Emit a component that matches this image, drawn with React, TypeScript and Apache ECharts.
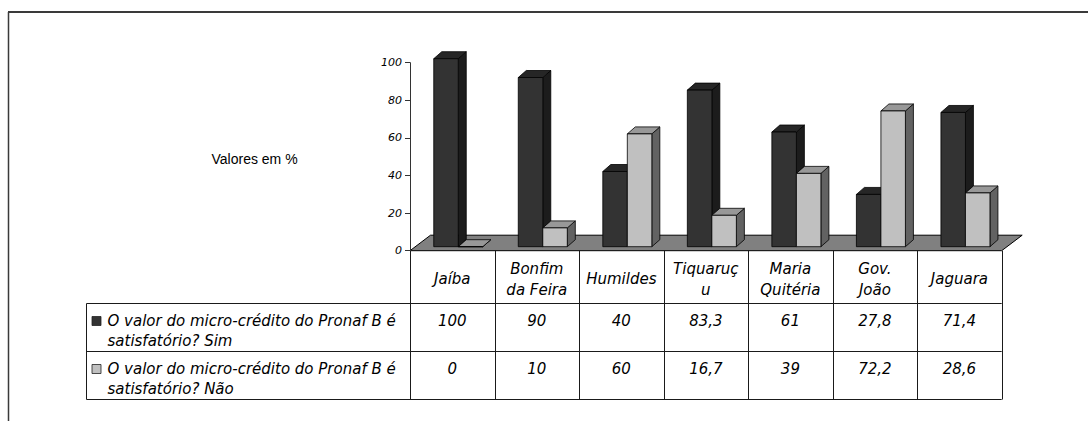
import { useEffect, useRef } from 'react';
import * as echarts from 'echarts';

// Municipalities (table header / category axis)
const CATEGORIES = ['Jaíba', 'Bonfim\nda Feira', 'Humildes', 'Tiquaruç\nu', 'Maria\nQuitéria', 'Gov.\nJoão', 'Jaguara'];
// Share of answers, in %
const SIM = [100, 90, 40, 83.3, 61, 27.8, 71.4];
const NAO = [0, 10, 60, 16.7, 39, 72.2, 28.6];
const SERIES_NAMES = [
  'O valor do micro-crédito do Pronaf B é\nsatisfatório? Sim',
  'O valor do micro-crédito do Pronaf B é\nsatisfatório? Não',
];
const Y_MIN = 0;
const Y_MAX = 100;
const Y_STEP = 20;
const Y_TITLE = 'Valores em %';

// layout (page pixels)
const W = 1088;
const H = 421;
const PLOT_LEFT = 410;
const PLOT_RIGHT = 1001.7;
const AXIS_TOP = 62.7;
const AXIS_BOTTOM = 250.7;
const ROW_TOPS = [303.5, 351.5];
const TABLE_BOTTOM = 399.5;
const LEGEND_LEFT = 86.5;
const FLOOR_DX = 20.5;
const FLOOR_DY = -15.5;
const BAR_SHIFT_X = 6;
const BAR_SHIFT_Y = -4;
const BAR_DX = 8;
const BAR_DY = -7;
const BAR_FRAC = 0.29;

const BAR_COLORS = [
  { front: '#333333', top: '#262626', side: '#1c1c1c' },
  { front: '#c0c0c0', top: '#989898', side: '#626262' },
];

const TABLE_FONT = 'italic 15px "DejaVu Sans"';
const LINE = '#1a1a1a';

const fmt = (v: number) => String(v).replace('.', ',');

function makeBarRenderer(s: number) {
  return (_params: any, api: any) => {
    const idx = api.value(0);
    const v = api.value(1);
    const base = api.coord([idx, 0]);
    const top = api.coord([idx, v]);
    const band = api.size([1, 0])[0];
    const w = band * BAR_FRAC;
    const x0 = base[0] + BAR_SHIFT_X + (s === 0 ? -w : 0);
    const x1 = x0 + w;
    const yb = base[1] + BAR_SHIFT_Y;
    const yt = top[1] + BAR_SHIFT_Y;
    const c = BAR_COLORS[s];
    const edge = { stroke: '#000', lineWidth: 0.8, lineJoin: 'round' };
    return {
      type: 'group',
      children: [
        {
          type: 'polygon',
          shape: { points: [[x1, yb], [x1 + BAR_DX, yb + BAR_DY], [x1 + BAR_DX, yt + BAR_DY], [x1, yt]] },
          style: { fill: c.side, ...edge },
        },
        {
          type: 'polygon',
          shape: { points: [[x0, yt], [x0 + BAR_DX, yt + BAR_DY], [x1 + BAR_DX, yt + BAR_DY], [x1, yt]] },
          style: { fill: c.top, ...edge },
        },
        {
          type: 'rect',
          shape: { x: x0, y: yt, width: w, height: Math.max(0, yb - yt) },
          style: { fill: c.front, ...edge },
        },
        {
          type: 'text',
          x: base[0],
          y: ROW_TOPS[s] + 17.5,
          style: {
            text: fmt(v),
            font: TABLE_FONT,
            fill: '#000',
            align: 'center',
            textAlign: 'center',
            verticalAlign: 'middle',
            textVerticalAlign: 'middle',
          },
        },
      ],
    };
  };
}

function buildGraphic() {
  const colW = (PLOT_RIGHT - PLOT_LEFT) / CATEGORIES.length;
  const els: any[] = [];
  // outer frame (top and left edges)
  els.push({ type: 'line', shape: { x1: 8, y1: 12, x2: W, y2: 12 }, style: { stroke: '#3a3a3a', lineWidth: 2 } });
  els.push({ type: 'line', shape: { x1: 8.5, y1: 12, x2: 8.5, y2: H }, style: { stroke: '#3a3a3a', lineWidth: 1.5 } });
  // floor of the 3D plot
  els.push({
    type: 'polygon',
    shape: {
      points: [
        [PLOT_LEFT, AXIS_BOTTOM],
        [PLOT_RIGHT, AXIS_BOTTOM],
        [PLOT_RIGHT + FLOOR_DX, AXIS_BOTTOM + FLOOR_DY],
        [PLOT_LEFT + FLOOR_DX, AXIS_BOTTOM + FLOOR_DY],
      ],
    },
    style: { fill: '#808080', stroke: '#000', lineWidth: 1 },
  });
  // value axis title
  els.push({
    type: 'text',
    x: 211.5,
    y: 159,
    style: {
      text: Y_TITLE,
      font: '14px "Liberation Sans"',
      fill: '#000',
      verticalAlign: 'middle',
      textVerticalAlign: 'middle',
    },
  });
  // data table grid
  [ROW_TOPS[0], ROW_TOPS[1], TABLE_BOTTOM].forEach((y) => {
    els.push({ type: 'line', shape: { x1: LEGEND_LEFT, y1: y, x2: PLOT_RIGHT, y2: y }, style: { stroke: LINE, lineWidth: 1 } });
  });
  els.push({ type: 'line', shape: { x1: LEGEND_LEFT, y1: ROW_TOPS[0], x2: LEGEND_LEFT, y2: TABLE_BOTTOM }, style: { stroke: LINE, lineWidth: 1 } });
  for (let i = 0; i <= CATEGORIES.length; i++) {
    const x = Math.round(PLOT_LEFT + i * colW) + 0.5;
    els.push({ type: 'line', shape: { x1: x, y1: AXIS_BOTTOM, x2: x, y2: TABLE_BOTTOM }, style: { stroke: LINE, lineWidth: 1 } });
  }
  // legend keys in the row headers
  SERIES_NAMES.forEach((name, s) => {
    els.push({
      type: 'rect',
      shape: { x: 92, y: ROW_TOPS[s] + 13, width: 9, height: 9 },
      style: { fill: BAR_COLORS[s].front, stroke: '#222', lineWidth: 0.8 },
    });
    els.push({
      type: 'text',
      x: 107.5,
      y: ROW_TOPS[s] + 27.5,
      style: {
        text: name,
        font: TABLE_FONT,
        lineHeight: 20.5,
        fill: '#000',
        verticalAlign: 'middle',
        textVerticalAlign: 'middle',
      },
    });
  });
  return els;
}

export default function App() {
  const ref = useRef<HTMLDivElement>(null);

  useEffect(() => {
    if (!ref.current) return;
    const chart = echarts.init(ref.current, undefined, { renderer: 'svg' });
    chart.setOption({
      animation: false,
      backgroundColor: '#ffffff',
      grid: {
        left: PLOT_LEFT,
        right: W - PLOT_RIGHT,
        top: AXIS_TOP,
        bottom: H - AXIS_BOTTOM,
      },
      xAxis: {
        type: 'category',
        data: CATEGORIES,
        axisLine: { show: false },
        axisTick: { show: false },
        splitLine: { show: false },
        axisLabel: {
          interval: 0,
          margin: 28.3,
          verticalAlign: 'middle',
          align: 'center',
          lineHeight: 21,
          fontFamily: 'DejaVu Sans',
          fontStyle: 'italic',
          fontSize: 15,
          color: '#000',
        },
      },
      yAxis: {
        type: 'value',
        min: Y_MIN,
        max: Y_MAX,
        interval: Y_STEP,
        splitLine: { show: false },
        axisLine: { show: true, lineStyle: { color: '#333', width: 1 } },
        axisTick: { show: true, inside: false, length: 5, lineStyle: { color: '#333', width: 1 } },
        axisLabel: {
          margin: 8,
          fontFamily: 'DejaVu Sans',
          fontStyle: 'italic',
          fontSize: 11,
          color: '#000',
        },
      },
      series: [SIM, NAO].map((vals, s) => ({
        type: 'custom',
        name: SERIES_NAMES[s],
        data: vals.map((v, i) => [i, v]),
        encode: { x: 0, y: 1 },
        clip: false,
        renderItem: makeBarRenderer(s),
      })),
      graphic: buildGraphic(),
    });
    return () => chart.dispose();
  }, []);

  return (
    <div
      ref={ref}
      style={{ position: 'fixed', left: 0, top: 0, width: W, height: H, background: '#fff' }}
    />
  );
}
